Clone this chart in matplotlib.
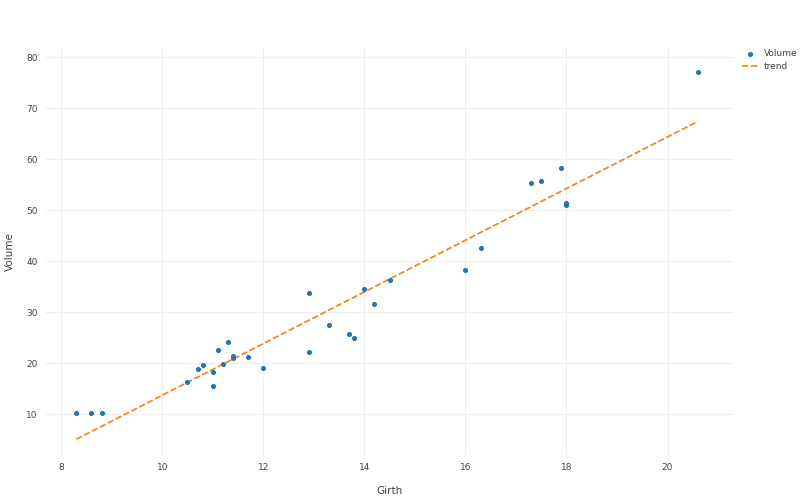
import numpy as np
import matplotlib
matplotlib.use("Agg")
import matplotlib.pyplot as plt

girth = [8.3, 8.6, 8.8, 10.5, 10.7, 10.8, 11.0, 11.0, 11.1, 11.2, 11.3, 11.4, 11.4, 11.7, 12.0,
         12.9, 12.9, 13.3, 13.7, 13.8, 14.0, 14.2, 14.5, 16.0, 16.3, 17.3, 17.5, 17.9, 18.0, 18.0, 20.6]
volume = [10.3, 10.3, 10.2, 16.4, 18.8, 19.7, 15.6, 18.2, 22.6, 19.9, 24.2, 21.0, 21.4, 21.3, 19.1,
          22.2, 33.8, 27.4, 25.7, 24.9, 34.5, 31.7, 36.3, 38.3, 42.6, 55.4, 55.7, 58.3, 51.5, 51.0, 77.0]

x = np.array(girth); y = np.array(volume)
b, a = np.polyfit(x, y, 1)
xt = np.array([x.min(), x.max()])

fig = plt.figure(figsize=(8, 5), dpi=100)
ax = fig.add_axes([0.0575, 0.09, 0.859, 0.814])
ax.scatter(x, y, s=7, color="#1f77b4", label="Volume", zorder=3)
ax.plot(xt, a + b * xt, "--", color="#ff7f0e", lw=1.2, label="trend", zorder=2)
ax.set_xlim(7.7, 21.3)
ax.set_ylim(2, 81.8)
ax.set_xticks([8, 10, 12, 14, 16, 18, 20])
ax.set_yticks([10, 20, 30, 40, 50, 60, 70, 80])
ax.grid(True, color="#eeeeee", lw=0.8)
for s in ax.spines.values():
    s.set_visible(False)
ax.tick_params(length=0, labelsize=6.5, colors="#444444", pad=6)
ax.set_xlabel("Girth", fontsize=7.5, color="#444444", labelpad=10)
ax.set_ylabel("Volume", fontsize=7.5, color="#444444", labelpad=8)
fig.legend(loc="upper left", bbox_to_anchor=(0.925, 0.905), frameon=False, fontsize=6.5,
           labelcolor="#444444", handlelength=1.8, handletextpad=0.6, labelspacing=0.4,
           borderaxespad=0, borderpad=0.2)
fig.savefig("out.png")
